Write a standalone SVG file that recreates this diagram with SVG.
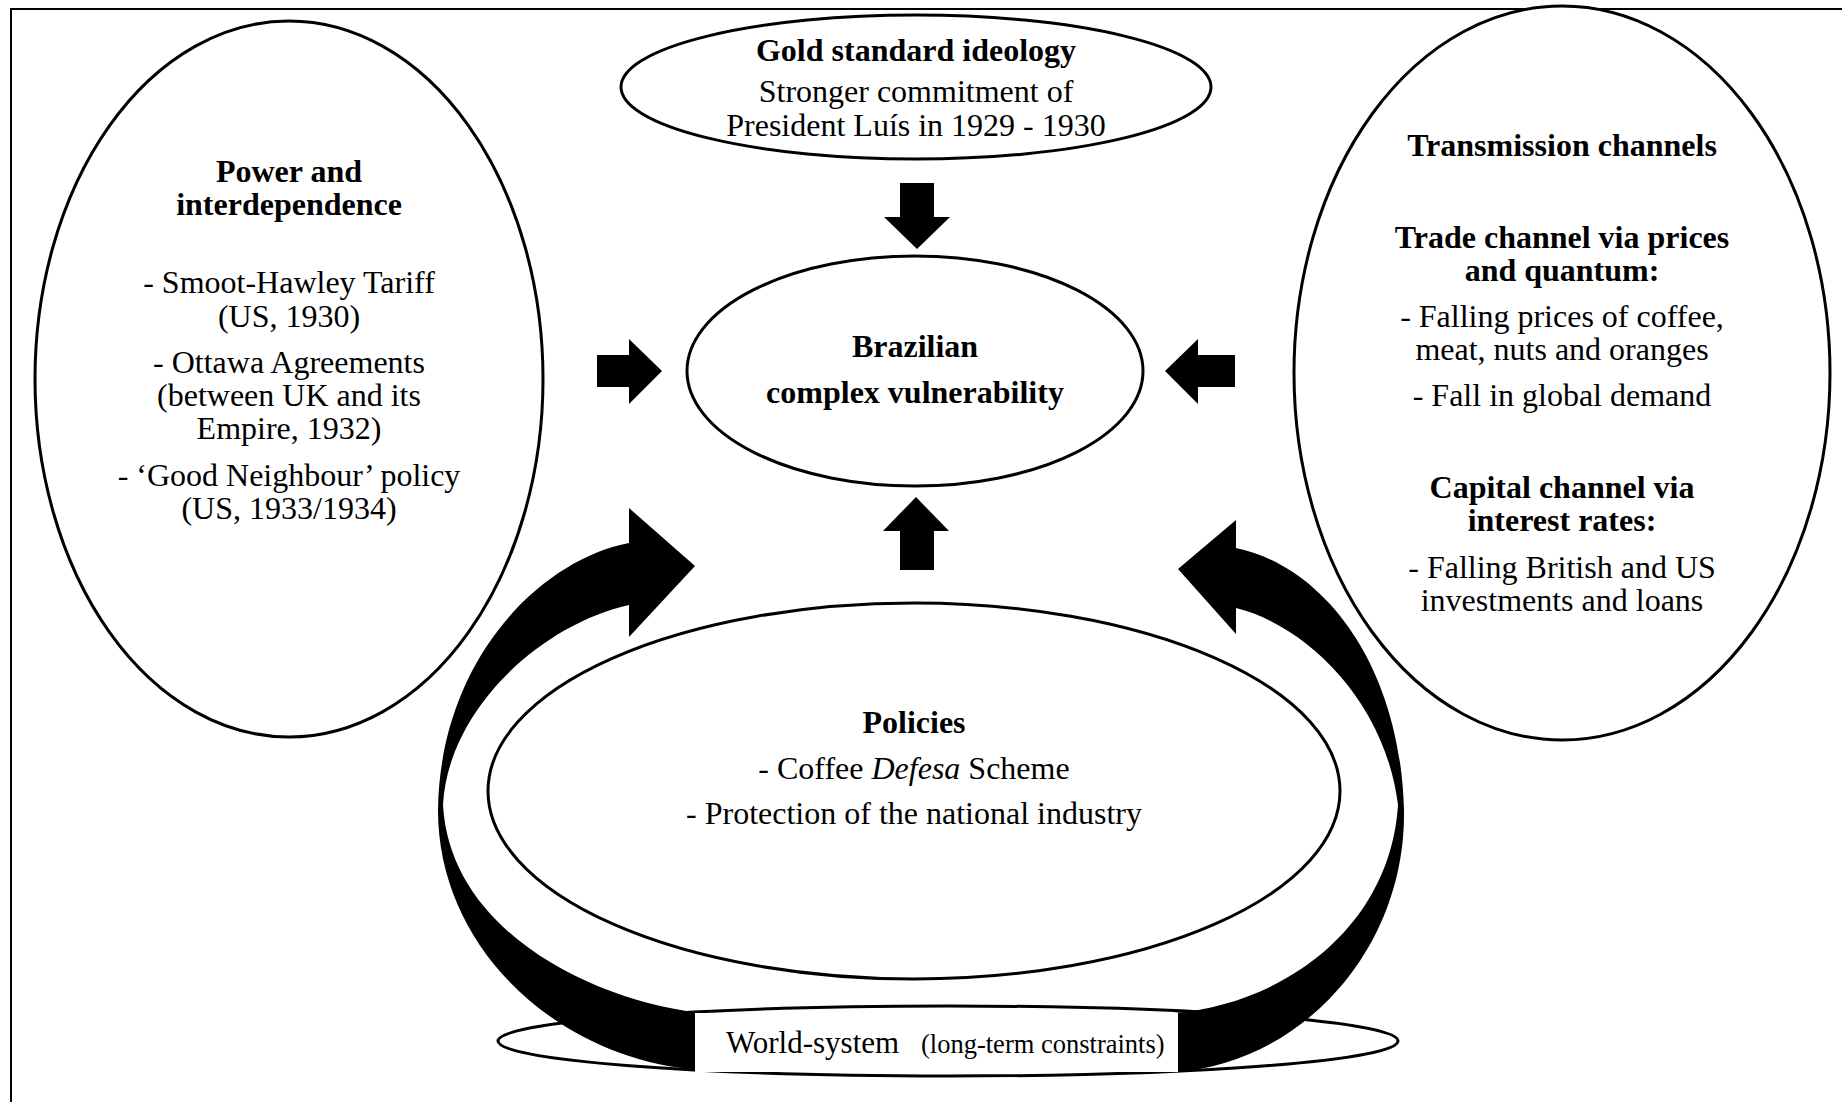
<svg xmlns="http://www.w3.org/2000/svg" width="1842" height="1102" viewBox="0 0 1842 1102">
<style>
.node{fill:#fff;stroke:#000;stroke-width:3}
.t{font-family:"Liberation Serif","Times New Roman",serif;font-size:32px;fill:#000;text-anchor:middle}
.b{font-weight:bold}
.arrow{fill:#000;stroke:none}
</style>
<rect width="1842" height="1102" fill="#fff"/>
<path d="M11,1102 V9 H1842" fill="none" stroke="#000" stroke-width="2"/>

<g id="power">
<ellipse class="node" cx="289" cy="379" rx="254" ry="358"/>
<text class="t b" x="289" y="182">Power and</text>
<text class="t b" x="289" y="215">interdependence</text>
<text class="t" x="289" y="293">- Smoot-Hawley Tariff</text>
<text class="t" x="289" y="327">(US, 1930)</text>
<text class="t" x="289" y="373">- Ottawa Agreements</text>
<text class="t" x="289" y="406">(between UK and its</text>
<text class="t" x="289" y="439">Empire, 1932)</text>
<text class="t" x="289" y="486">- ‘Good Neighbour’ policy</text>
<text class="t" x="289" y="519">(US, 1933/1934)</text>
</g>

<g id="transmission">
<ellipse class="node" cx="1562" cy="373" rx="268" ry="367"/>
<text class="t b" x="1562" y="156">Transmission channels</text>
<text class="t b" x="1562" y="248">Trade channel via prices</text>
<text class="t b" x="1562" y="281">and quantum:</text>
<text class="t" x="1562" y="327">- Falling prices of coffee,</text>
<text class="t" x="1562" y="360">meat, nuts and oranges</text>
<text class="t" x="1562" y="406">- Fall in global demand</text>
<text class="t b" x="1562" y="498">Capital channel via</text>
<text class="t b" x="1562" y="531">interest rates:</text>
<text class="t" x="1562" y="578">- Falling British and US</text>
<text class="t" x="1562" y="611">investments and loans</text>
</g>

<g id="gold">
<ellipse class="node" cx="916" cy="87" rx="295" ry="72"/>
<text class="t b" x="916" y="61">Gold standard ideology</text>
<text class="t" x="916" y="102">Stronger commitment of</text>
<text class="t" x="916" y="136">President Luís in 1929 - 1930</text>
</g>

<g id="vulnerability">
<ellipse class="node" cx="915" cy="371" rx="228" ry="115"/>
<text class="t b" x="915" y="357">Brazilian</text>
<text class="t b" x="915" y="403">complex vulnerability</text>
</g>

<g id="policies">
<ellipse class="node" cx="914" cy="791" rx="426" ry="188"/>
<text class="t b" x="914" y="733">Policies</text>
<text class="t" x="914" y="779">- Coffee <tspan font-style="italic">Defesa</tspan> Scheme</text>
<text class="t" x="914" y="824">- Protection of the national industry</text>
</g>

<g id="worldsystem-ring">
<ellipse class="node" cx="948" cy="1041" rx="450" ry="35"/>
</g>

<g id="connectors">
<polygon class="arrow" points="900,183 934,183 934,217 950,217 917,249 884,217 900,217"/>
<polygon class="arrow" points="900,570 934,570 934,531 949,531 916,497 883,531 900,531"/>
<polygon class="arrow" points="597,355 629,355 629,339 662,371 629,404 629,387 597,387"/>
<polygon class="arrow" points="1235,355 1198,355 1198,339 1165,371 1198,404 1198,387 1235,387"/>
<path class="arrow" d="M629,543 L629,508 L695,566 L629,637 L629,605 C540,625 448,710 443,805 C450,930 590,1000 700,1013 L700,1070 C560,1060 438,950 438,810 C440,660 540,560 629,543 Z"/>
<path class="arrow" d="M1236,548 L1236,520 L1178,569 L1236,634 L1236,608 C1305,625 1385,700 1398,805 C1390,930 1280,1005 1173,1013 L1173,1072 C1300,1065 1406,950 1404,810 C1400,660 1320,565 1236,548 Z"/>
</g>

<g id="worldsystem">
<rect x="695" y="1013" width="483" height="59" fill="#fff"/>
<text class="t" x="726" y="1053" style="text-anchor:start;font-size:31px">World-system</text>
<text class="t" x="921" y="1053" style="text-anchor:start;font-size:26.5px">(long-term constraints)</text>
</g>
</svg>
